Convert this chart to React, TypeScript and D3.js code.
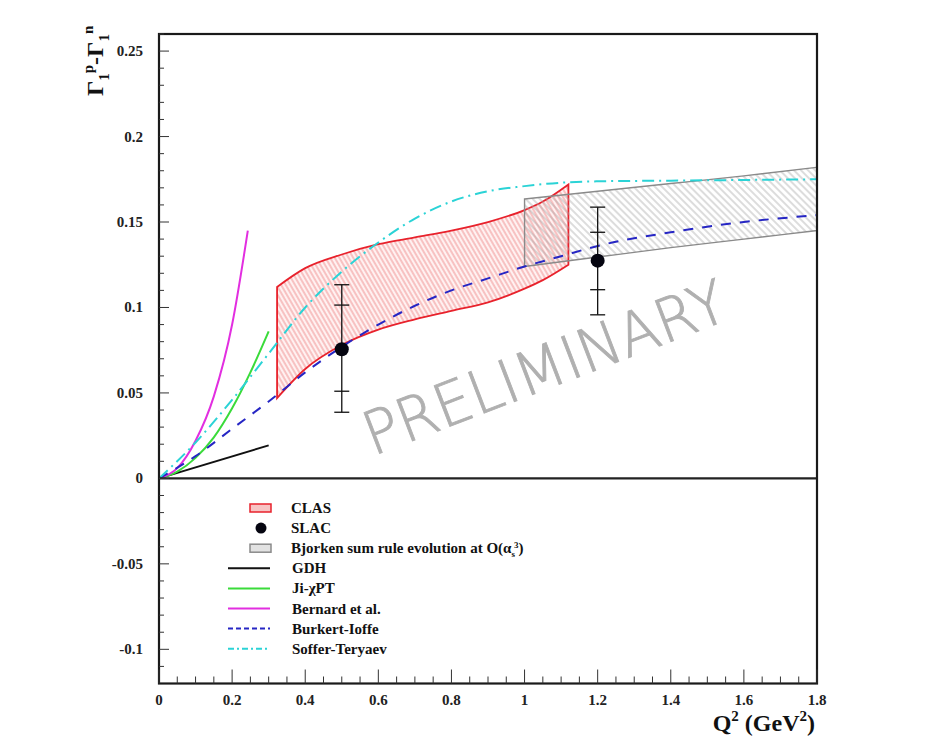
import React from "react";
import * as d3 from "d3";

// ---- data -------------------------------------------------------------
const xTickValues = [0, 0.2, 0.4, 0.6, 0.8, 1, 1.2, 1.4, 1.6, 1.8];
const xTickLabels = ["0", "0.2", "0.4", "0.6", "0.8", "1", "1.2", "1.4", "1.6", "1.8"];
const yTickValues = [-0.1, -0.05, 0, 0.05, 0.1, 0.15, 0.2, 0.25];
const yTickLabels = ["-0.1", "-0.05", "0", "0.05", "0.1", "0.15", "0.2", "0.25"];

// CLAS band (upper / lower edge)
const clasQ2 = [0.323, 0.4, 0.5, 0.6, 0.7, 0.8, 0.9, 1.0, 1.05, 1.12];
const clasHigh = [0.112, 0.123, 0.131, 0.137, 0.141, 0.145, 0.15, 0.157, 0.162, 0.172];
const clasLow = [0.047, 0.064, 0.078, 0.087, 0.093, 0.098, 0.103, 0.111, 0.116, 0.125];

// Bjorken sum rule evolution band
const bjorkenQ2 = [1.0, 1.2, 1.4, 1.6, 1.8];
const bjorkenHigh = [0.1635, 0.168, 0.1725, 0.177, 0.182];
const bjorkenLow = [0.124, 0.1295, 0.135, 0.14, 0.145];

// SLAC points with inner and outer error bars
const slacQ2 = [0.5, 1.2];
const slacValue = [0.0756, 0.1274];
const slacInnerLow = [0.051, 0.1104];
const slacInnerHigh = [0.1014, 0.144];
const slacOuterLow = [0.0387, 0.0957];
const slacOuterHigh = [0.1133, 0.1587];

// model curves
const gdhQ2 = [0, 0.3];
const gdhVal = [0, 0.0193];
const jiQ2 = [0, 0.05, 0.1, 0.15, 0.2, 0.25, 0.3];
const jiVal = [0, 0.004, 0.012, 0.024, 0.041, 0.062, 0.086];
const bernardQ2 = [0, 0.05, 0.1, 0.15, 0.2, 0.243];
const bernardVal = [0, 0.006, 0.022, 0.048, 0.09, 0.145];
const burkertQ2 = [0, 0.1, 0.2, 0.3, 0.4, 0.5, 0.6, 0.7, 0.8, 0.9, 1.0, 1.1, 1.2, 1.4, 1.6, 1.8];
const burkertVal = [0, 0.013, 0.029, 0.045, 0.062, 0.077, 0.09, 0.101, 0.11, 0.117, 0.124, 0.13, 0.136, 0.144, 0.15, 0.154];
const sofferQ2 = [0, 0.1, 0.2, 0.3, 0.4, 0.5, 0.6, 0.7, 0.8, 0.9, 1.0, 1.1, 1.2, 1.4, 1.6, 1.8];
const sofferVal = [0, 0.021, 0.046, 0.073, 0.1, 0.121, 0.138, 0.152, 0.162, 0.168, 0.171, 0.173, 0.1738, 0.1742, 0.1746, 0.175];

// ---- layout -----------------------------------------------------------
const W = 936;
const H = 751;
const left = 159;
const right = 817;
const top = 34;
const bottom = 683.5;

const x = d3.scaleLinear().domain([0, 1.8]).range([left, right]);
const y = d3.scaleLinear().domain([-0.12, 0.26]).range([bottom, top]);

const serif = "'Liberation Serif', 'Times New Roman', serif";

const zip = (xs: number[], ys: number[]) => xs.map((v, i) => [v, ys[i]] as [number, number]);

const line = d3
  .line<[number, number]>()
  .x((d) => x(d[0]))
  .y((d) => y(d[1]))
  .curve(d3.curveMonotoneX);

const band = (xs: number[], lo: number[], hi: number[]) =>
  d3
    .area<number>()
    .x((_, i) => x(xs[i]))
    .y0((_, i) => y(lo[i]))
    .y1((_, i) => y(hi[i]))
    .curve(d3.curveMonotoneX)(xs.map((_, i) => i)) as string;

const COLORS = {
  red: "#e8222c",
  redHatch: "#ee8888",
  gray: "#8a8a8a",
  grayHatch: "#a8a8a8",
  green: "#3adb3a",
  magenta: "#e22ee0",
  blue: "#2626c4",
  cyan: "#2bd3d6",
};

const legendItems = [
  { key: "clas", label: "CLAS" },
  { key: "slac", label: "SLAC" },
  { key: "bj", label: "" },
  { key: "gdh", label: "GDH" },
  { key: "ji", label: "" },
  { key: "bernard", label: "Bernard et al." },
  { key: "burkert", label: "Burkert-Ioffe" },
  { key: "soffer", label: "Soffer-Teryaev" },
];

export default function App() {
  const xMinor = d3.range(0, 1.8001, 0.05);
  const yMinor = d3.range(-0.11, 0.2601, 0.01);

  const legendX = 292;
  const legendY0 = 508;
  const legendStep = 20.1;

  const slacIdx = slacQ2.map((_, i) => i);

  return (
    <svg width={W} height={H} style={{ display: "block", position: "absolute", left: 0, top: 0, background: "#fff" }}>
      <defs>
        <pattern id="hatchRed" width="4" height="4" patternUnits="userSpaceOnUse" patternTransform="rotate(-30)">
          <rect width="4" height="4" fill="#fff1f1" />
          <line x1="1" y1="0" x2="1" y2="4" stroke={COLORS.redHatch} strokeWidth="0.9" />
        </pattern>
        <pattern id="hatchGray" width="5" height="5" patternUnits="userSpaceOnUse" patternTransform="rotate(-45)">
          <line x1="1" y1="0" x2="1" y2="5" stroke={COLORS.grayHatch} strokeWidth="0.8" />
        </pattern>
      </defs>

      <rect x={0} y={0} width={W} height={H} fill="#fff" />

      {/* watermark */}
      <text
        x={0}
        y={0}
        transform={`translate(373,456) rotate(-21)`}
        fontFamily="'DejaVu Sans', 'Liberation Sans', sans-serif"
        fontWeight={200}
        fontSize={60}
        fill="#b0b0b0"
        stroke="#b0b0b0"
        strokeWidth={0.9}
        textLength={384}
        lengthAdjust="spacingAndGlyphs"
      >
        PRELIMINARY
      </text>

      {/* bands */}
      <path d={band(clasQ2, clasLow, clasHigh) + "Z"} fill="url(#hatchRed)" stroke={COLORS.red} strokeWidth={1.8} />
      <path
        d={band(bjorkenQ2, bjorkenLow, bjorkenHigh) + "Z"}
        fill="url(#hatchGray)"
        stroke={COLORS.gray}
        strokeWidth={1.4}
      />

      {/* model curves */}
      <path d={line(zip(gdhQ2, gdhVal)) as string} fill="none" stroke="#111" strokeWidth={2} />
      <path d={line(zip(jiQ2, jiVal)) as string} fill="none" stroke={COLORS.green} strokeWidth={2} />
      <path d={line(zip(bernardQ2, bernardVal)) as string} fill="none" stroke={COLORS.magenta} strokeWidth={2} />
      <path
        d={line(zip(burkertQ2, burkertVal)) as string}
        fill="none"
        stroke={COLORS.blue}
        strokeWidth={2}
        strokeDasharray="10,9"
      />
      <path
        d={line(zip(sofferQ2, sofferVal)) as string}
        fill="none"
        stroke={COLORS.cyan}
        strokeWidth={2}
        strokeDasharray="12,5,2,5"
      />

      {/* SLAC points */}
      {slacIdx.map((i) => {
        const cx = x(slacQ2[i]);
        return (
          <g key={i} stroke="#111" strokeWidth={1.3}>
            <line x1={cx} x2={cx} y1={y(slacOuterLow[i])} y2={y(slacOuterHigh[i])} />
            {[slacOuterLow[i], slacOuterHigh[i], slacInnerLow[i], slacInnerHigh[i]].map((v, j) => (
              <line key={j} x1={cx - 7.5} x2={cx + 7.5} y1={y(v)} y2={y(v)} />
            ))}
            <circle cx={cx} cy={y(slacValue[i])} r={7} fill="#050510" stroke="none" />
          </g>
        );
      })}

      {/* zero line */}
      <line x1={left} x2={right} y1={y(0)} y2={y(0)} stroke="#222" strokeWidth={2.2} />

      {/* frame */}
      <rect x={left} y={top} width={right - left} height={bottom - top} fill="none" stroke="#1a1a1a" strokeWidth={2.2} />

      {/* x ticks */}
      {xMinor.map((v, i) => {
        const major = Math.abs(v / 0.2 - Math.round(v / 0.2)) < 1e-6;
        return (
          <line key={"xm" + i} x1={x(v)} x2={x(v)} y1={bottom} y2={bottom - (major ? 14 : 7)} stroke="#333" strokeWidth={1} />
        );
      })}
      {xTickValues.map((v, i) => (
        <text
          key={"xl" + i}
          x={x(v)}
          y={705}
          textAnchor="middle"
          fontFamily={serif}
          fontWeight="bold"
          fontSize={15}
          fill="#222"
        >
          {xTickLabels[i]}
        </text>
      ))}

      {/* y ticks */}
      {yMinor.map((v, i) => {
        const major = Math.abs(v / 0.05 - Math.round(v / 0.05)) < 1e-6;
        return (
          <line key={"ym" + i} x1={left} x2={left + (major ? 10 : 5)} y1={y(v)} y2={y(v)} stroke="#333" strokeWidth={1} />
        );
      })}
      {yTickValues.map((v, i) => (
        <text
          key={"yl" + i}
          x={143}
          y={y(v) + 5}
          textAnchor="end"
          fontFamily={serif}
          fontWeight="bold"
          fontSize={15}
          fill="#222"
        >
          {yTickLabels[i]}
        </text>
      ))}

      {/* axis titles */}
      <text x={815} y={731} textAnchor="end" fontFamily={serif} fontWeight="bold" fontSize={24} fill="#111">
        Q<tspan dy={-10} fontSize={15}>2</tspan>
        <tspan dy={10}> (GeV</tspan>
        <tspan dy={-10} fontSize={15}>2</tspan>
        <tspan dy={10}>)</tspan>
      </text>
      <text
        transform="translate(103,96) rotate(-90)"
        fontFamily={serif}
        fontWeight="bold"
        fontSize={24}
        fill="#111"
      >
        Γ<tspan dy={6} fontSize={15}>1</tspan>
        <tspan dy={-16} fontSize={15}>p</tspan>
        <tspan dy={10}>-Γ</tspan>
        <tspan dy={6} fontSize={15}>1</tspan>
        <tspan dy={-16} fontSize={15}>n</tspan>
      </text>

      {/* legend */}
      {legendItems.map((it, i) => {
        const cy = legendY0 + i * legendStep;
        let sym: React.ReactNode = null;
        if (it.key === "clas")
          sym = <rect x={250} y={cy - 4} width={21} height={8} fill="#f7c4c4" stroke={COLORS.red} strokeWidth={1.5} />;
        else if (it.key === "slac") sym = <circle cx={261} cy={cy} r={5.5} fill="#050510" />;
        else if (it.key === "bj")
          sym = <rect x={250} y={cy - 4} width={21} height={8} fill="#e2e2e2" stroke={COLORS.gray} strokeWidth={1.5} />;
        else if (it.key === "gdh") sym = <line x1={228} x2={270} y1={cy} y2={cy} stroke="#111" strokeWidth={2} />;
        else if (it.key === "ji") sym = <line x1={228} x2={270} y1={cy} y2={cy} stroke={COLORS.green} strokeWidth={2} />;
        else if (it.key === "bernard")
          sym = <line x1={228} x2={270} y1={cy} y2={cy} stroke={COLORS.magenta} strokeWidth={2} />;
        else if (it.key === "burkert")
          sym = <line x1={228} x2={270} y1={cy} y2={cy} stroke={COLORS.blue} strokeWidth={2} strokeDasharray="5,3" />;
        else if (it.key === "soffer")
          sym = <line x1={228} x2={270} y1={cy} y2={cy} stroke={COLORS.cyan} strokeWidth={2} strokeDasharray="6,3,2,3" />;

        let label: React.ReactNode = it.label;
        if (it.key === "bj")
          label = (
            <>
              Bjorken sum rule evolution at O(α<tspan dy={4} fontSize={9}>s</tspan>
              <tspan dy={-9} dx={-1} fontSize={9}>3</tspan>
              <tspan dy={5}>)</tspan>
            </>
          );
        if (it.key === "ji")
          label = <>Ji-χPT</>;
        const tx = i < 3 ? legendX - 1 : legendX;
        return (
          <g key={it.key}>
            {sym}
            <text x={tx} y={cy + 5} fontFamily={serif} fontWeight="bold" fontSize={15} fill="#111">
              {label}
            </text>
          </g>
        );
      })}
    </svg>
  );
}
